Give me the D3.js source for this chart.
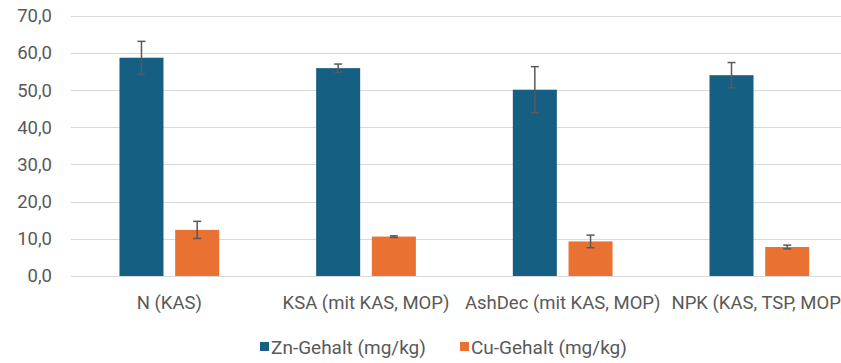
<!DOCTYPE html>
<html>
<head>
<meta charset="utf-8">
<script src="https://cdn.jsdelivr.net/npm/d3@7"></script>
<style>
  body { margin: 0; background: #fff; }
  svg { display: block; font-family: Roboto, "Noto Sans", sans-serif; }
</style>
</head>
<body>
<svg id="chart" width="841" height="363"></svg>
<script>
const categories = ["N (KAS)", "KSA (mit KAS, MOP)", "AshDec (mit KAS, MOP)", "NPK (KAS, TSP, MOP)"];
const seriesNames = ["Zn-Gehalt (mg/kg)", "Cu-Gehalt (mg/kg)"];
const znValues = [58.7, 55.9, 50.1, 54.0];
const znErrors = [4.4, 1.1, 6.2, 3.4];
const cuValues = [12.4, 10.6, 9.3, 7.8];
const cuErrors = [2.3, 0.2, 1.7, 0.5];
const yTicks = [0, 10, 20, 30, 40, 50, 60, 70];
const colors = ["#155f82", "#e97132"];

const svg = d3.select("#chart");
const margin = { top: 15.7, left: 71, bottom: 87 };
const plotRight = 857.7; // plot runs past the right edge, as in the reference
const plotBottom = +svg.attr("height") - margin.bottom;

const x0 = d3.scaleBand().domain(categories).range([margin.left, plotRight]);
const x1 = d3.scaleBand().domain(seriesNames).range([0, x0.bandwidth()])
    .paddingInner(0.21).paddingOuter(0.87);
const y = d3.scaleLinear().domain([0, 70]).range([plotBottom, margin.top]);

const fmt = d => d3.format(".1f")(d).replace(".", ",");

// gridlines
svg.append("g")
    .selectAll("line")
    .data(yTicks)
    .join("line")
    .attr("x1", margin.left)
    .attr("x2", plotRight)
    .attr("y1", d => Math.round(y(d)) + 0.5)
    .attr("y2", d => Math.round(y(d)) + 0.5)
    .attr("stroke", "#d9d9d9")
    .attr("stroke-width", 1);

// y axis labels
svg.append("g")
    .selectAll("text")
    .data(yTicks)
    .join("text")
    .attr("x", 52)
    .attr("y", d => y(d))
    .attr("dy", "0.35em")
    .attr("text-anchor", "end")
    .attr("fill", "#595959")
    .style("font-size", "18.5px")
    .text(fmt);

// data rows
const rows = categories.map((c, i) => ({
    cat: c,
    vals: [
        { s: seriesNames[0], v: znValues[i], e: znErrors[i], c: colors[0] },
        { s: seriesNames[1], v: cuValues[i], e: cuErrors[i], c: colors[1] }
    ]
}));

const groups = svg.append("g")
    .selectAll("g")
    .data(rows)
    .join("g")
    .attr("transform", d => `translate(${x0(d.cat)},0)`);

groups.selectAll("rect")
    .data(d => d.vals)
    .join("rect")
    .attr("x", d => x1(d.s))
    .attr("y", d => y(d.v))
    .attr("width", x1.bandwidth())
    .attr("height", d => y(0) - y(d.v))
    .attr("fill", d => d.c);

// error bars
const errG = groups.selectAll("g.err")
    .data(d => d.vals)
    .join("g")
    .attr("class", "err")
    .attr("stroke", "#595959")
    .attr("stroke-width", 1.5);

const cx = d => x1(d.s) + x1.bandwidth() / 2;
errG.append("line")
    .attr("x1", cx).attr("x2", cx)
    .attr("y1", d => y(d.v + d.e)).attr("y2", d => y(d.v - d.e));
errG.append("line")
    .attr("x1", d => cx(d) - 4).attr("x2", d => cx(d) + 4)
    .attr("y1", d => y(d.v + d.e)).attr("y2", d => y(d.v + d.e));
errG.append("line")
    .attr("x1", d => cx(d) - 4).attr("x2", d => cx(d) + 4)
    .attr("y1", d => y(d.v - d.e)).attr("y2", d => y(d.v - d.e));

// category labels
svg.append("g")
    .selectAll("text")
    .data(categories)
    .join("text")
    .attr("x", d => x0(d) + x0.bandwidth() / 2)
    .attr("y", 303)
    .attr("dy", "0.35em")
    .attr("text-anchor", "middle")
    .attr("fill", "#595959")
    .style("font-size", "18.5px")
    .text(d => d);

// legend
const legendX = [260, 460];
const legend = svg.append("g")
    .selectAll("g")
    .data(seriesNames)
    .join("g")
    .attr("transform", (d, i) => `translate(${legendX[i]},342)`);
legend.append("rect")
    .attr("width", 9).attr("height", 9)
    .attr("fill", (d, i) => colors[i]);
legend.append("text")
    .attr("x", 11)
    .attr("y", 5)
    .attr("dy", "0.35em")
    .attr("fill", "#595959")
    .style("font-size", "19px")
    .text(d => d);
</script>
</body>
</html>
